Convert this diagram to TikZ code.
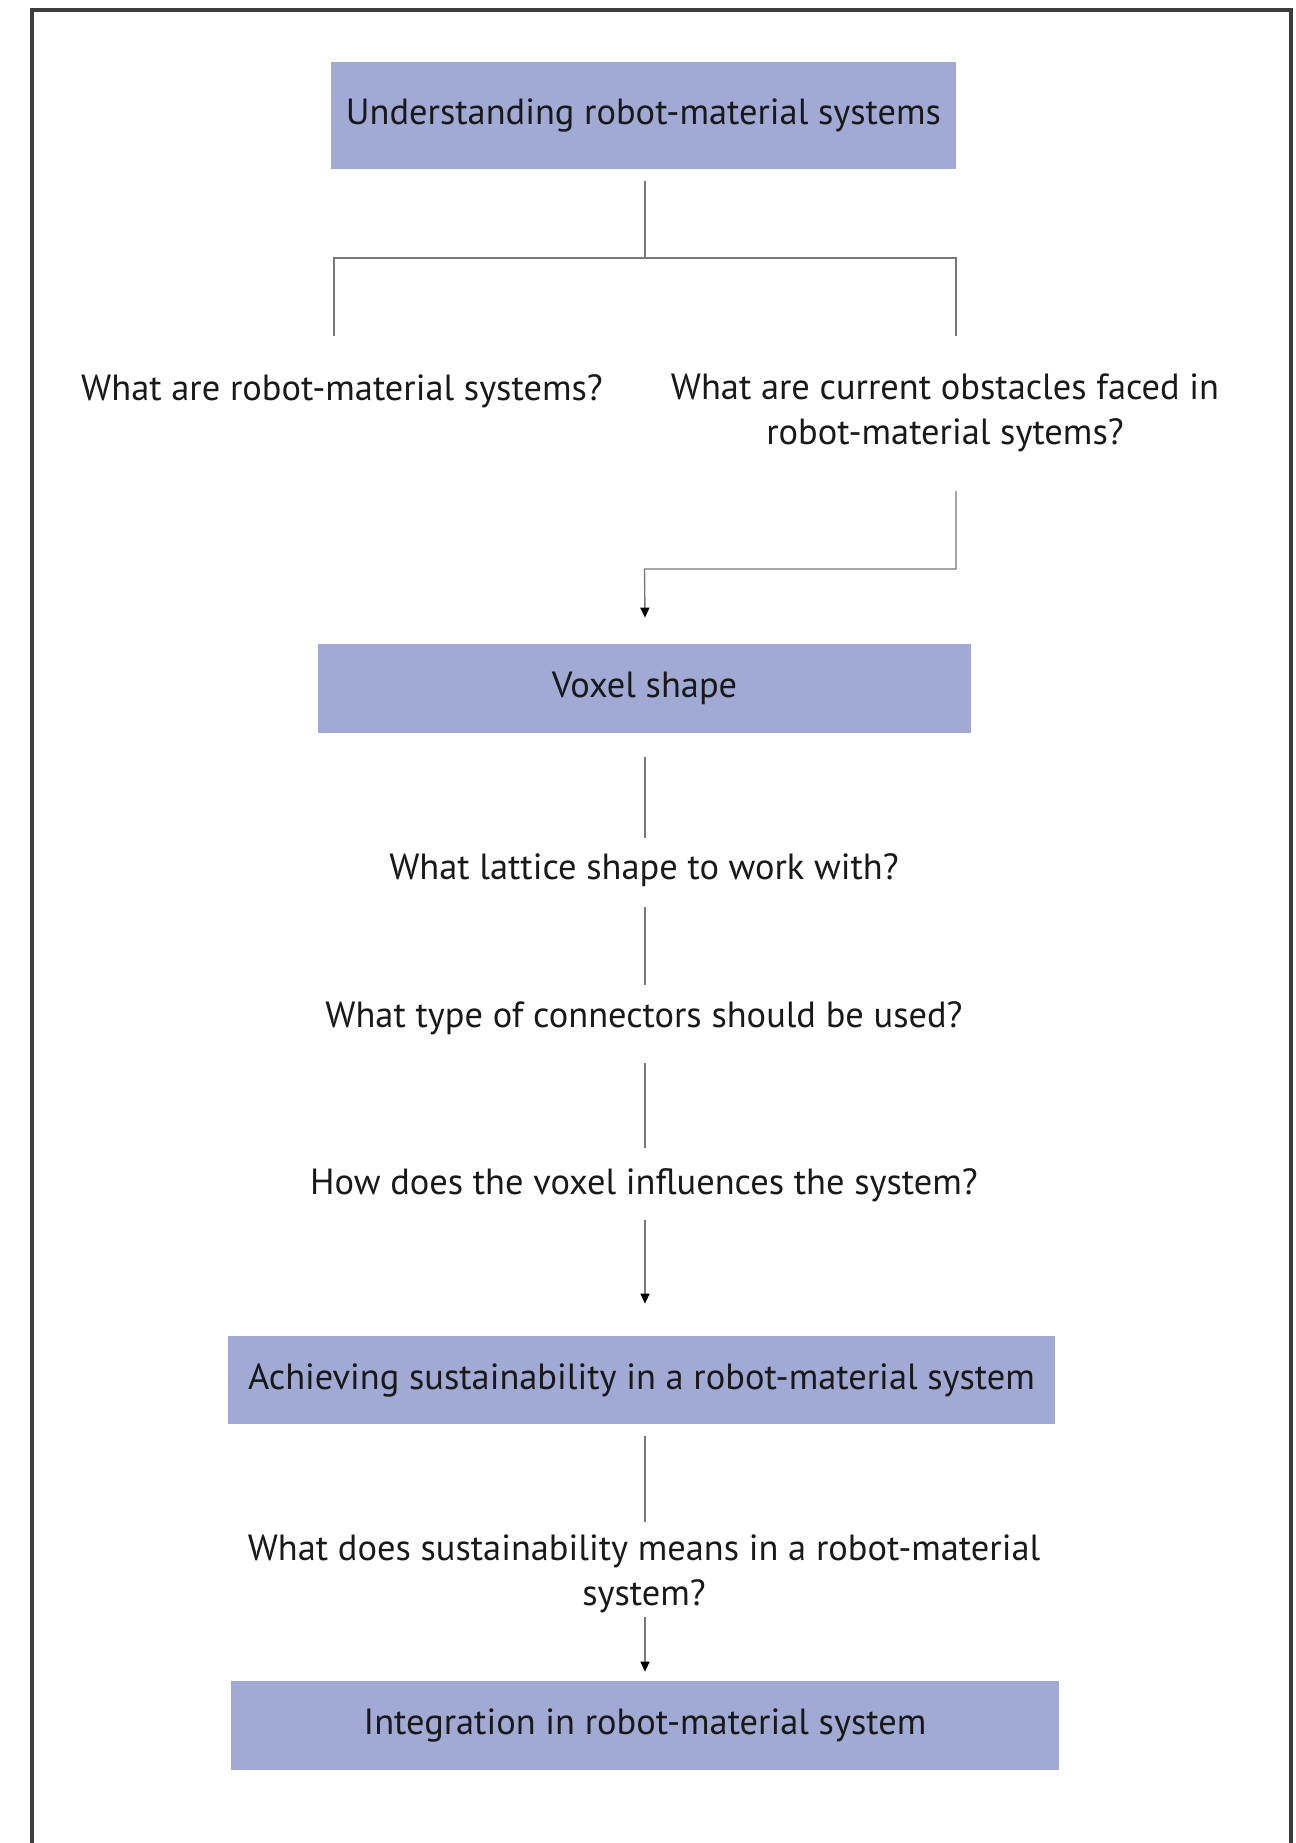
\documentclass[tikz,border=0pt]{standalone}
\usepackage{fontspec}
\setmainfont{PT Sans}
\usetikzlibrary{arrows.meta,calc}
\definecolor{boxblue}{RGB}{160,170,212}
\definecolor{framegray}{RGB}{60,60,60}
\definecolor{linegray}{RGB}{120,120,120}
\begin{document}
\begin{tikzpicture}[x=0.5pt,y=-0.5pt,
  bluebox/.style={fill=boxblue,draw=none,inner sep=0pt,font=\fontsize{18.2}{22.3}\selectfont,text=black!90},
  qtext/.style={align=center,inner sep=0pt,font=\fontsize{18.2}{22.3}\selectfont,text=black!90},
  conn/.style={draw=linegray,line width=0.7pt},
  connarrow/.style={conn,-{Triangle[width=4.5pt,length=5pt,fill=black,color=black]}}]
\useasboundingbox (0,0) rectangle (1296,1843);
\draw[framegray,line width=1.6pt] (32,1850) -- (32,10) -- (1291,10) -- (1291,1850);

\node[bluebox,minimum width=625*0.5pt,minimum height=107*0.5pt] (b1) at (643.5,115.5) {Understanding robot-material systems};
\node[qtext] (q1) at (342,391) {What are robot-material systems?};
\node[qtext] (q2) at (945,413) {What are current obstacles faced in\\robot-material sytems?};
\node[bluebox,minimum width=653*0.5pt,minimum height=89*0.5pt] (b2) at (644.5,688.5) {Voxel shape};
\node[qtext] (q3) at (644,870) {What lattice shape to work with?};
\node[qtext] (q4) at (644,1018) {What type of connectors should be used?};
\node[qtext] (q5) at (644,1185) {How does the voxel influences the system?};
\node[bluebox,minimum width=827*0.5pt,minimum height=88*0.5pt] (b3) at (641.5,1380) {Achieving sustainability in a robot-material system};
\node[qtext] (q6) at (644,1574) {What does sustainability means in a robot-material\\system?};
\node[bluebox,minimum width=828*0.5pt,minimum height=89*0.5pt] (b4) at (645,1725.5) {Integration in robot-material system};

% split from b1
\coordinate (jc) at (645,258);
\coordinate (jl) at (334,258);
\coordinate (jr) at (956,258);
\draw[conn] ($(b1.south -| jc)+(0,12)$) -- (jc);
\draw[conn] ($(q1.center -| jl)+(0,-55)$) -- (jl) -- (jr) -- ++(0,78);
% q2 to b2
\coordinate (k1) at (956,569);
\draw[connarrow] ($(q2.center -| k1)+(0,78)$) -- (k1) -- (k1 -| b2.north) -- ($(b2.north)+(0.5,-26)$);
% vertical chain
\draw[conn] ($(b2.center)+(0.5,68.5)$) -- ($(q3.center)+(1,-32)$);
\draw[conn] ($(q3.center)+(1,37)$) -- ($(q4.center)+(1,-33)$);
\draw[conn] ($(q4.center)+(1,45)$) -- ($(q5.center)+(1,-37)$);
\draw[connarrow] ($(q5.center)+(1,35)$) -- ($(b3.north)+(3.5,-32)$);
\draw[conn] ($(b3.center)+(3.5,56)$) -- ($(q6.center)+(1,-52)$);
\draw[connarrow] ($(q6.center)+(1,43)$) -- ($(b4.north)+(0,-9)$);
\end{tikzpicture}
\end{document}
